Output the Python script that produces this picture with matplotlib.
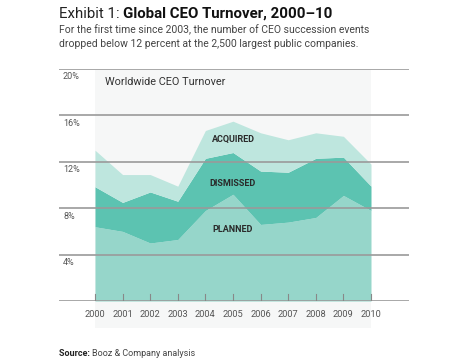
import matplotlib
matplotlib.use("Agg")
import matplotlib.pyplot as plt
from matplotlib.patches import Rectangle

plt.rcParams["font.family"] = ["Roboto", "DejaVu Sans"]

anios = list(range(2000, 2011))
planificados = [6.4, 6.0, 5.0, 5.3, 7.8, 9.2, 6.6, 6.8, 7.2, 9.1, 7.8]
despedidos_tope = [9.85, 8.5, 9.4, 8.6, 12.3, 12.8, 11.2, 11.1, 12.3, 12.4, 9.9]
total = [13.0, 10.9, 10.9, 9.9, 14.7, 15.5, 14.5, 13.9, 14.5, 14.2, 11.8]
marcas_y = [4, 8, 12, 16, 20]

C_PLAN = "#96d6ca"
C_DESP = "#5cc3b1"
C_ADQ = "#bee6de"
C_FONDO = "#f6f7f7"
C_GRID = "#9a9a9a"

fig = plt.figure(figsize=(4.68, 3.6), dpi=100)
ax = fig.add_axes([59 / 468, 1 - 301 / 360, (409 - 59) / 468, 232 / 360])
x0, x1 = 2000 - 36 / 27.6, 2000 + (409 - 95) / 27.6
ax.set_xlim(x0, x1)
ax.set_ylim(0, 20)
ax.axis("off")

# panel gris detrás de los datos
ax.add_patch(Rectangle((2000, -27 / 11.6), 10, 20 - 0.1 + 27 / 11.6,
                       color=C_FONDO, zorder=0, clip_on=False, lw=0))

ax.fill_between(anios, 0, planificados, color=C_PLAN, lw=0, zorder=1)
ax.fill_between(anios, planificados, despedidos_tope, color=C_DESP, lw=0, zorder=1)
ax.fill_between(anios, despedidos_tope, total, color=C_ADQ, lw=0, zorder=1)

ax.axhline(0, color=C_GRID, lw=1.2, zorder=3)
for v in marcas_y:
    ax.axhline(v, color=C_GRID, lw=1.2, zorder=3)
    ax.text(x0 + 4 / 27.6, v - 0.3, f"{v}%", fontsize=6.5, color="#555555",
            va="top", ha="left")

for a in anios:
    ax.plot([a, a], [0, 0.6], color="#888888", lw=0.8, zorder=3)
    ax.text(a, -0.8, str(a), fontsize=6.7, color="#555555", ha="center", va="top")

ax.text(2000 + 10 / 27.6, 18.9, "Worldwide CEO Turnover", fontsize=7.8,
        color="#333333", va="center", ha="left")
for txt, y in [("ACQUIRED", 13.9), ("DISMISSED", 10.1), ("PLANNED", 6.2)]:
    ax.text(2005, y, txt, fontsize=6.5, weight="bold", color="#2a2a2a",
            ha="center", va="center")

t = fig.text(59 / 468, 1 - 14 / 360, "Exhibit 1: ", fontsize=10.8, color="#222222",
             va="center", ha="left")
fig.canvas.draw()
bb = t.get_window_extent()
fig.text(bb.x1 / 468, 1 - 14 / 360, "Global CEO Turnover, 2000–10", fontsize=10.8,
         weight="bold", color="#111111", va="center", ha="left")

fig.text(59 / 468, 1 - 30 / 360,
         "For the first time since 2003, the number of CEO succession events",
         fontsize=7.5, color="#444444", va="center")
fig.text(59 / 468, 1 - 44 / 360,
         "dropped below 12 percent at the 2,500 largest public companies.",
         fontsize=7.5, color="#444444", va="center")

s = fig.text(59 / 468, 1 - 354 / 360, "Source: ", fontsize=6.5, weight="bold",
             color="#222222", va="center")
fig.canvas.draw()
bb = s.get_window_extent()
fig.text(bb.x1 / 468, 1 - 354 / 360, "Booz & Company analysis", fontsize=6.5,
         color="#444444", va="center")

fig.savefig("out.png", dpi=100, facecolor="white")
